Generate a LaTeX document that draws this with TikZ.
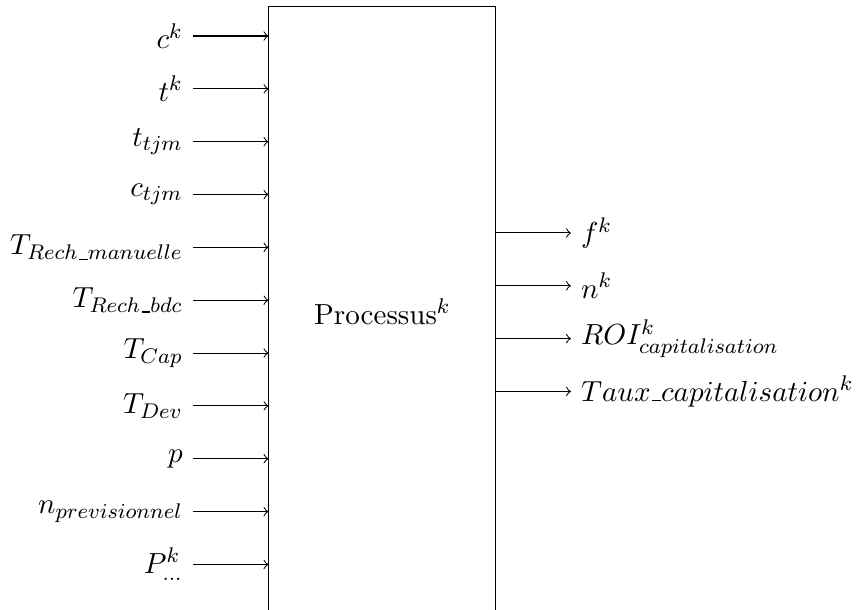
\documentclass[tikz,border=0pt,11pt]{standalone}
\newcommand\usc{\mbox{\kern.06em\vbox{\hrule width.3em}}}
\begin{document}
\begin{tikzpicture}[>=to,
  procbox/.style={draw, minimum width=3.007cm, minimum height=8.1cm, inner sep=0pt},
  inlab/.style={anchor=east},
  outlab/.style={anchor=west}]
\useasboundingbox (0,0) rectangle (11.34,-8.08);
\node[procbox] (box) at (5.066,-4.13) {Processus$^k$};
\foreach \lab [count=\i] in {c^k, t^k, t_{tjm}, c_{tjm}, T_{Rech\usc manuelle}, T_{Rech\usc bdc}, T_{Cap}, T_{Dev}, p, n_{previsionnel}, P^k_{...}} {
  \node[inlab] (in\i) at (2.556,{-0.477-0.7*(\i-1)}) {$\lab$};
  \draw[->] (in\i.east) -- (in\i.east -| box.west);
}
\foreach \lab [count=\i] in {f^k, n^k, ROI^k_{capitalisation}, Taux\usc capitalisation^k} {
  \coordinate (oc\i) at (7.563,{-3.086-0.7*(\i-1)});
  \node[outlab] (out\i) at (oc\i) {$\lab$};
  \draw[->] (oc\i -| box.east) -- (out\i.west);
}
\end{tikzpicture}
\end{document}
